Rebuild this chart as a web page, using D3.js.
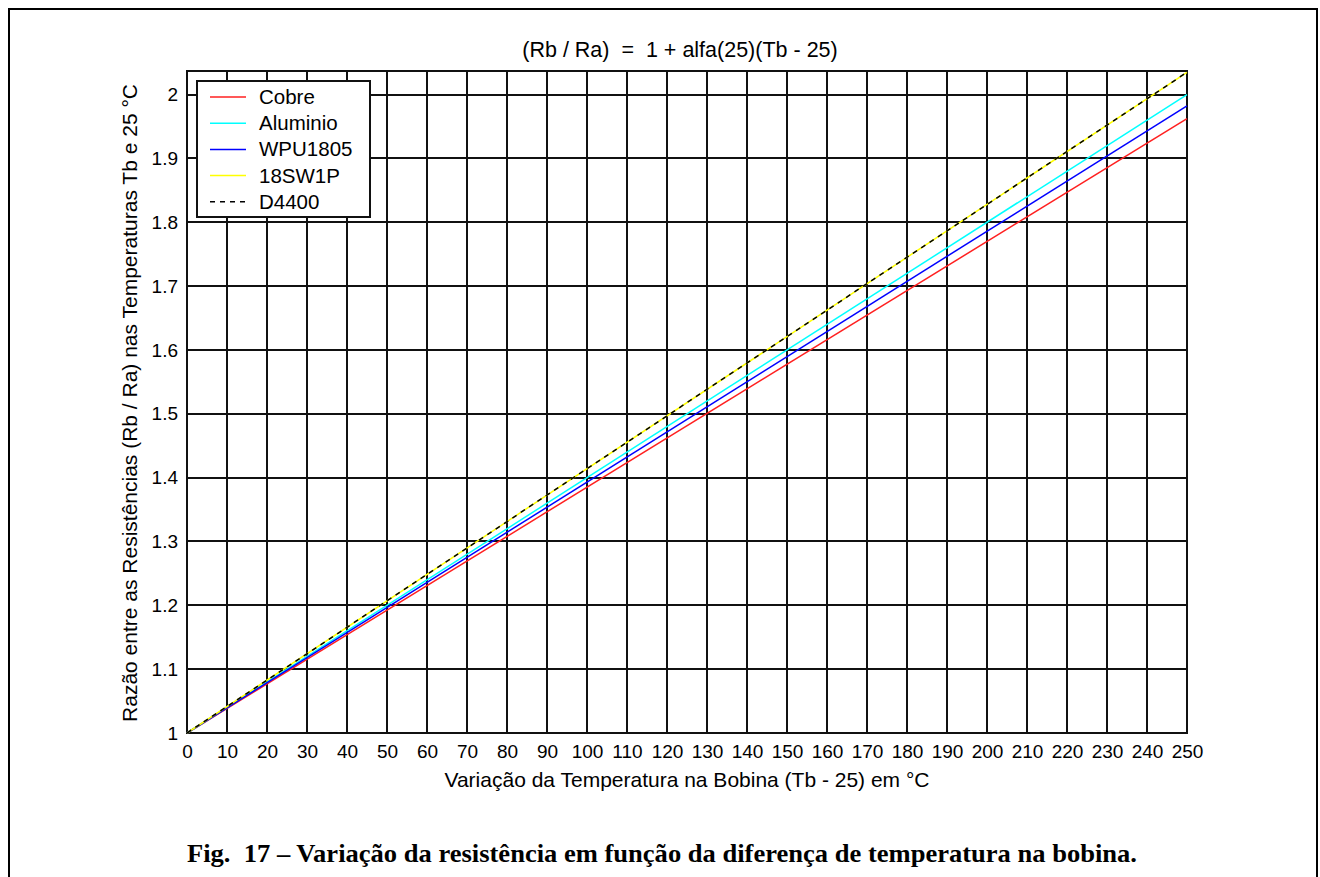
<!DOCTYPE html>
<html>
<head>
<meta charset="utf-8">
<script src="https://cdn.jsdelivr.net/npm/d3@7"></script>
<style>
  html, body { margin: 0; padding: 0; background: #fff; }
  svg { display: block; }
  text { font-family: "Liberation Sans", Arial, sans-serif; fill: #000; }
</style>
</head>
<body>
<svg id="chart" width="1320" height="877"></svg>
<script>
// Temperature rise (Tb - 25) in °C at the start and end of each line
const deltaT = [0, 250];

// Resistance ratio Rb/Ra for each conductor material
const cobre    = [1, 1.9625];
const aluminio = [1, 2.0];
const wpu1805  = [1, 1.9825];
const sw18     = [1, 2.035];
const d4400    = [1, 2.035];

const seriesNames  = ["Cobre", "Aluminio", "WPU1805", "18SW1P", "D4400"];
const seriesValues = [cobre, aluminio, wpu1805, sw18, d4400];
const seriesColors = ["#ff2020", "#00ffff", "#0000ff", "#ffff00", "#000000"];
const seriesDash   = [null, null, null, null, "5,5"];

const xTicks = [0,10,20,30,40,50,60,70,80,90,100,110,120,130,140,150,160,170,180,190,200,210,220,230,240,250];
const yTicks = [1, 1.1, 1.2, 1.3, 1.4, 1.5, 1.6, 1.7, 1.8, 1.9, 2];
const yTickLabels = ["1", "1.1", "1.2", "1.3", "1.4", "1.5", "1.6", "1.7", "1.8", "1.9", "2"];

const svg = d3.select("#chart");

// outer frame
svg.append("rect")
  .attr("x", 9).attr("y", 9)
  .attr("width", 1308).attr("height", 880)
  .attr("fill", "none").attr("stroke", "#000").attr("stroke-width", 2);

const plot = { left: 187, right: 1187, top: 71, bottom: 733 };

const x = d3.scaleLinear().domain([0, 250]).range([plot.left, plot.right]);
const y = d3.scaleLinear().domain([1, 2.037]).range([plot.bottom, plot.top]);

// grid
const grid = svg.append("g").attr("stroke", "#111").attr("stroke-width", 2).attr("shape-rendering", "crispEdges");
grid.selectAll("line.vx").data(xTicks).join("line")
  .attr("x1", d => x(d)).attr("x2", d => x(d))
  .attr("y1", plot.top).attr("y2", plot.bottom);
grid.selectAll("line.hy").data(yTicks).join("line")
  .attr("class", "hy")
  .attr("x1", plot.left).attr("x2", plot.right)
  .attr("y1", d => y(d)).attr("y2", d => y(d));

// axes
const xAxis = d3.axisBottom(x).tickValues(xTicks).tickSize(0).tickPadding(12).tickFormat(d3.format("d"));
const yAxis = d3.axisLeft(y).tickValues(yTicks).tickSize(0).tickPadding(9)
  .tickFormat((d, i) => yTickLabels[i]);

const gx = svg.append("g").attr("transform", `translate(0,${plot.bottom})`).call(xAxis);
const gy = svg.append("g").attr("transform", `translate(${plot.left},0)`).call(yAxis);
[gx, gy].forEach(g => {
  g.select(".domain").remove();
  g.selectAll("text").style("font-family", "'Liberation Sans', Arial, sans-serif").style("font-size", "19px").attr("fill", "#000");
});

// box
svg.append("rect")
  .attr("x", plot.left).attr("y", plot.top)
  .attr("width", plot.right - plot.left).attr("height", plot.bottom - plot.top)
  .attr("fill", "none").attr("stroke", "#111").attr("stroke-width", 2)
  .attr("shape-rendering", "crispEdges");

// series lines
const line = d3.line().x((d, i) => x(deltaT[i])).y(d => y(d));
seriesValues.forEach((vals, k) => {
  svg.append("path")
    .attr("d", line(vals))
    .attr("fill", "none")
    .attr("stroke", seriesColors[k])
    .attr("stroke-width", 1.5)
    .attr("stroke-dasharray", seriesDash[k]);
});

// title and axis labels
svg.append("text")
  .attr("x", 680).attr("y", 57)
  .attr("text-anchor", "middle").style("font-size", "21.5px")
  .attr("xml:space", "preserve")
  .text("(Rb / Ra)  =  1 + alfa(25)(Tb - 25)");

svg.append("text")
  .attr("x", (plot.left + plot.right) / 2).attr("y", 787)
  .attr("text-anchor", "middle").style("font-size", "21px")
  .text("Variação da Temperatura na Bobina (Tb - 25) em °C");

svg.append("text")
  .attr("transform", `translate(137,${(plot.top + plot.bottom) / 2 + 1}) rotate(-90)`)
  .attr("text-anchor", "middle").style("font-size", "21px")
  .text("Razão entre as Resistências (Rb / Ra) nas Temperaturas Tb e 25 °C");

// legend
const lg = svg.append("g");
lg.append("rect")
  .attr("x", 197).attr("y", 81).attr("width", 173).attr("height", 136)
  .attr("fill", "#fff").attr("stroke", "#111").attr("stroke-width", 2)
  .attr("shape-rendering", "crispEdges");
seriesNames.forEach((name, k) => {
  const yy = 97 + k * 26.2;
  lg.append("line")
    .attr("x1", 210).attr("x2", 246).attr("y1", yy).attr("y2", yy)
    .attr("stroke", seriesColors[k]).attr("stroke-width", 1.5)
    .attr("stroke-dasharray", seriesDash[k]);
  lg.append("text")
    .attr("x", 259).attr("y", yy + 7)
    .style("font-size", "20.5px")
    .text(name);
});

// figure caption
svg.append("text")
  .attr("x", 662).attr("y", 862)
  .attr("text-anchor", "middle")
  .attr("xml:space", "preserve")
  .attr("textLength", 950)
  .attr("lengthAdjust", "spacingAndGlyphs")
  .style("font-family", "'Liberation Serif', 'Times New Roman', serif")
  .style("font-weight", "bold").style("font-size", "25px")
  .text("Fig.  17 – Variação da resistência em função da diferença de temperatura na bobina.");
</script>
</body>
</html>
